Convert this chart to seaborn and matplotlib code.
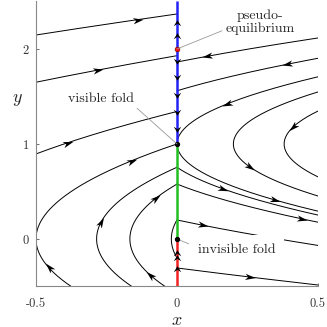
import numpy as np
import pandas as pd
import seaborn as sns
import matplotlib.pyplot as plt
from matplotlib.markers import MarkerStyle
from matplotlib.path import Path
from matplotlib.transforms import Affine2D

sns.set_style("ticks")
plt.rcParams["font.family"] = ["cmr10", "DejaVu Serif"]
plt.rcParams["mathtext.fontset"] = "cm"
plt.rcParams["axes.unicode_minus"] = False

# orbits: one point for each (x0, y0)
left_x0 = [-0.5, -0.5, -0.5, -0.5, -0.285, -0.167, -0.02]
left_y0 = [2.147, 1.65, 0.895, 0.0, 0.0, 0.0, 0.0]
right_x0 = [0.0, 0.0, 0.0, 0.2, 0.38, 0.0, 0.0, 0.0, 0.0]
right_y0 = [1.863, 1.56, 1.0, 1.0, 1.0, 0.755, 0.578, 0.2, -0.305]

# arrow heads on the orbits (orbit index, y where the head sits)
left_arrow_orbit = [0, 1, 2, 3, 3, 4, 5, 5]
left_arrow_y = [2.309, 1.778, 1.015, -0.30, 0.825, 0.18, -0.38, 0.43]
right_arrow_orbit = [0, 1, 2, 2, 3, 4, 5, 6, 7, 8]
right_arrow_y = [1.922, 1.839, 1.42, 0.41, 0.755, 1.18, 0.528, 0.212, 0.144, -0.401]

# sliding / escaping arrows on x = 0
slide_y = [2.284, 2.147, 1.863, 1.695, 1.505, 1.326, 1.147, -0.137, -0.19, -0.305]

# segments of the switching line
seg_lo = [-0.5, 0.0, 1.0]
seg_hi = [0.0, 1.0, 2.5]
seg_col = ["#f22222", "#22c022", "#2222f5"]

xticks = [-0.5, 0, 0.5]
xticklabels = ["-0.5", "0", "0.5"]
yticks = [0, 1, 2]
yticklabels = ["0", "1", "2"]


def f_left(x, y):
    return y, 1.0


def f_right(x, y):
    return 1.0 - y, -0.5


def left_orbit(x0, y0):
    c = x0 - y0 ** 2 / 2
    hi = np.sqrt(-2 * c)
    lo = max(-0.5, -hi) if y0 == 0 else y0
    y = np.linspace(lo, hi, 300)
    return y ** 2 / 2 + c, y


def right_orbit(x0, y0):
    c = x0 - (y0 - 1) ** 2
    reach = np.sqrt(0.5 - c)
    if y0 == 1:
        y = np.linspace(min(2.5, 1 + reach), max(-0.5, 1 - reach), 400)
    elif y0 > 1:
        y = np.linspace(y0, min(2.5, 1 + reach), 300)
    else:
        y = np.linspace(y0, max(-0.5, 1 - reach), 300)
    return (y - 1) ** 2 + c, y


rows = []
for i, (a, b) in enumerate(zip(left_x0, left_y0)):
    xs, ys = left_orbit(a, b)
    rows.append(pd.DataFrame({"x": xs, "y": ys, "orbit": f"L{i}"}))
for i, (a, b) in enumerate(zip(right_x0, right_y0)):
    xs, ys = right_orbit(a, b)
    rows.append(pd.DataFrame({"x": xs, "y": ys, "orbit": f"R{i}"}))
df = pd.concat(rows, ignore_index=True)

fig = plt.figure(figsize=(3.27, 3.27), dpi=100)
ax = fig.add_axes([0.110, 0.1239, 0.8624, 0.8716])
ax.set_xlim(-0.5, 0.5)
ax.set_ylim(-0.5, 2.5)

sns.lineplot(data=df, x="x", y="y", units="orbit", estimator=None, sort=False,
             color="k", lw=0.7, ax=ax, legend=False)

for lo, hi, col in zip(seg_lo, seg_hi, seg_col):
    ax.plot([0, 0], [lo, hi], color=col, lw=1.8, solid_capstyle="butt", zorder=3)

head = Path([(1, 0), (-1, 0.6), (-0.45, 0), (-1, -0.6), (1, 0)],
            [Path.MOVETO, Path.LINETO, Path.LINETO, Path.LINETO, Path.CLOSEPOLY])
chev = Path([(0.6, 0), (-1, 1), (-0.35, 0), (-1, -1), (0.6, 0)],
            [Path.MOVETO, Path.LINETO, Path.LINETO, Path.LINETO, Path.CLOSEPOLY])
sx = 282.0
sy = 95.0


def draw_head(x, y, dx, dy, size, shape=head):
    ang = np.degrees(np.arctan2(dy * sy, dx * sx))
    m = MarkerStyle(shape, transform=Affine2D().rotate_deg(ang))
    ax.plot([x], [y], marker=m, color="k", markersize=size, mew=0,
            linestyle="none", zorder=5)


for k, yv in zip(left_arrow_orbit, left_arrow_y):
    c = left_x0[k] - left_y0[k] ** 2 / 2
    xv = yv ** 2 / 2 + c
    draw_head(xv, yv, *f_left(xv, yv), 7.5)

for k, yv in zip(right_arrow_orbit, right_arrow_y):
    c = right_x0[k] - (right_y0[k] - 1) ** 2
    xv = (yv - 1) ** 2 + c
    draw_head(xv, yv, *f_right(xv, yv), 7.5)

for yv in slide_y:
    a1, b1 = f_left(0, yv)
    a2, b2 = f_right(0, yv)
    lam = a2 / (a2 - a1)
    vy = lam * b1 + (1 - lam) * b2
    draw_head(0, yv, 0, np.sign(vy), 5.5, chev)

ax.plot([0], [2], "o", color="#ff1010", mec="#600000", mew=0.4, markersize=3.5, zorder=6)
ax.plot([0, 0], [1, 0], "o", color="k", markersize=2.8, linestyle="none", zorder=6)

# labels
ax.annotate("pseudo-\nequilibrium", xy=(0, 2), xytext=(0.294, 2.285),
            ha="center", va="center", fontsize=10, linespacing=1.0,
            arrowprops=dict(arrowstyle="-", color="#999999", lw=0.6,
                            shrinkA=0, shrinkB=0, relpos=(0.0, 0.2)), zorder=7)
ax.annotate("visible fold", xy=(0, 1), xytext=(-0.27, 1.47),
            ha="center", va="center", fontsize=10,
            arrowprops=dict(arrowstyle="-", color="#999999", lw=0.6,
                            shrinkA=0, shrinkB=0, relpos=(1.0, 0.0)), zorder=7)
ax.annotate("invisible fold", xy=(0, 0), xytext=(0.074, -0.116),
            ha="left", va="center", fontsize=10,
            bbox=dict(boxstyle="square,pad=0.65", fc="white", ec="none"),
            arrowprops=dict(arrowstyle="-", color="#999999", lw=0.6,
                            shrinkA=0, shrinkB=0, relpos=(0.0, 0.7)), zorder=4)

ax.set_xticks(xticks)
ax.set_xticklabels(xticklabels)
ax.set_yticks(yticks)
ax.set_yticklabels(yticklabels)
ax.tick_params(direction="in", length=2, width=0.6, color="#555555",
               labelsize=9, pad=5, labelcolor="#333333")
ax.tick_params(axis="x", pad=8)
sns.despine(ax=ax)
for s in ["left", "bottom"]:
    ax.spines[s].set_color("#888888")
    ax.spines[s].set_linewidth(0.8)
ax.set_xlabel("")
ax.set_ylabel("")
ax.text(0.5, -0.1175, "$x$", transform=ax.transAxes, ha="center", va="center", fontsize=13)
ax.text(-0.067, 0.654, "$y$", transform=ax.transAxes, ha="center", va="center", fontsize=13)

fig.savefig("out.png", dpi=100)
